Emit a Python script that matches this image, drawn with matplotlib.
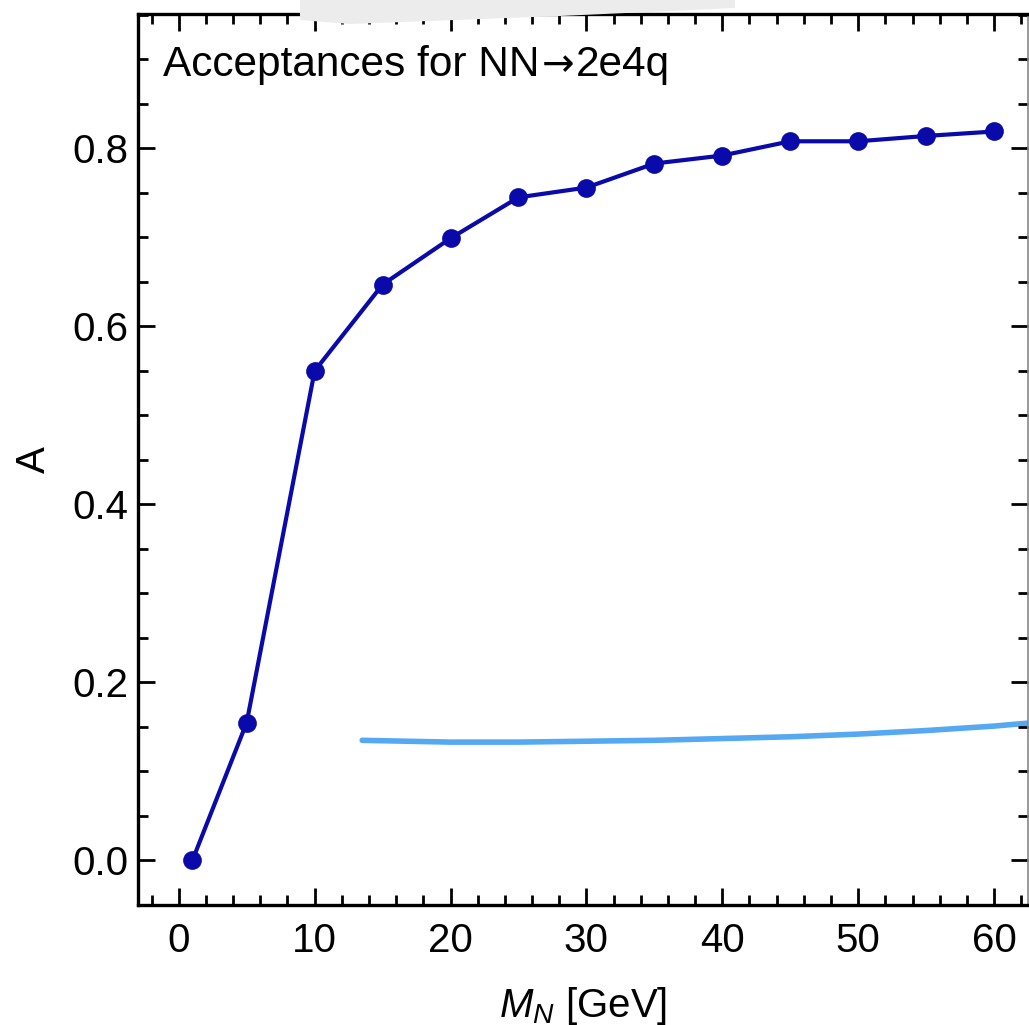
import matplotlib
matplotlib.use("Agg")
import matplotlib.pyplot as plt
from matplotlib.ticker import MultipleLocator, FormatStrFormatter
from matplotlib.patches import Polygon
from matplotlib.transforms import offset_copy

plt.rcParams['font.family'] = ['Liberation Sans', 'DejaVu Sans']
plt.rcParams['mathtext.fontset'] = 'custom'
plt.rcParams['mathtext.it'] = 'Liberation Sans:italic'
plt.rcParams['mathtext.rm'] = 'Liberation Sans'

# Acceptance vs heavy neutrino mass
mass_gev = [1, 5, 10, 15, 20, 25, 30, 35, 40, 45, 50, 55, 60]
acceptance = [0.0, 0.155, 0.550, 0.647, 0.699, 0.745, 0.756, 0.783,
              0.792, 0.808, 0.808, 0.814, 0.819]

# Light blue stroke across the lower part of the frame
stroke_x = [13.5, 20, 25, 30, 35, 40, 45, 50, 55, 60, 63]
stroke_y = [0.135, 0.133, 0.133, 0.134, 0.135, 0.137, 0.139, 0.142, 0.146, 0.151, 0.155]

fig = plt.figure(figsize=(10.29, 10.25), dpi=100)
ax = fig.add_axes([138/1029, 1 - 905/1025, (1028-138)/1029, (905-14)/1025])

ax.plot(stroke_x, stroke_y, color='#55a8f2', lw=4, solid_capstyle='round', zorder=1)
ax.plot(mass_gev, acceptance, color='#0a0aaa', lw=3.0, marker='o', ms=13.5,
        markeredgewidth=0, zorder=3)

ax.set_xlim(-3, 62.5)
ax.set_ylim(-0.05, 0.951)
ax.xaxis.set_major_locator(MultipleLocator(10))
ax.xaxis.set_minor_locator(MultipleLocator(2))
ax.yaxis.set_major_locator(MultipleLocator(0.2))
ax.yaxis.set_minor_locator(MultipleLocator(0.05))
ax.yaxis.set_major_formatter(FormatStrFormatter('%.1f'))

ax.tick_params(which='both', direction='in', top=True, right=True,
               labelsize=29, width=2, color='black')
ax.tick_params(axis='y', pad=7)
ax.tick_params(axis='x', pad=12)
ax.tick_params(which='major', length=12)
ax.tick_params(which='minor', length=7)
for side in ['left', 'bottom', 'top']:
    ax.spines[side].set_linewidth(2.4)
ax.spines['right'].set_linewidth(1.2)
ax.spines['right'].set_color('#888888')

ax.set_xlabel(r'$M_N$ [GeV]', fontsize=29, labelpad=18)
ax.set_ylabel('A', fontsize=29, labelpad=14)

# Plot label, with a wider arrow glyph
t1 = ax.text(0.028, 0.930, 'Acceptances for NN', transform=ax.transAxes,
             fontsize=30.5, ha='left', va='baseline')
fig.canvas.draw()
w1 = t1.get_window_extent().width
t2 = ax.text(0.028, 0.930, '\u2192', transform=offset_copy(ax.transAxes, fig=fig, x=w1 + 2, y=0, units='dots'),
             fontsize=28, ha='left', va='baseline', family='DejaVu Sans')
fig.canvas.draw()
w2 = t2.get_window_extent().width
ax.text(0.028, 0.930, '2e4q', transform=offset_copy(ax.transAxes, fig=fig, x=w1 + w2 + 4, y=0, units='dots'),
        fontsize=30.5, ha='left', va='baseline')

# faint grey smudge above the frame
smudge = Polygon([[300/1029, 1.0], [735/1029, 1.0], [735/1029, 1 - 8/1025],
                  [560/1029, 1 - 16/1025], [350/1029, 1 - 24/1025], [300/1029, 1 - 20/1025]],
                 closed=True, transform=fig.transFigure, facecolor='#ececec',
                 edgecolor='none', zorder=0)
fig.patches.append(smudge)

fig.savefig('out.png', dpi=100)
